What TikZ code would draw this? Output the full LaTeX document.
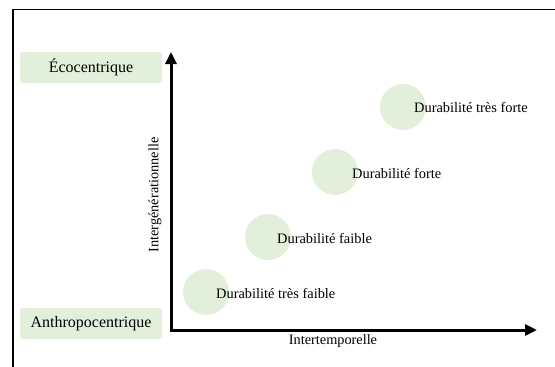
\documentclass[tikz,border=0pt]{standalone}
\usepackage{fontspec}
\setmainfont{Liberation Serif}
\usetikzlibrary{arrows.meta}
\definecolor{palegreen}{HTML}{E2EFDA}

\begin{document}
\begin{tikzpicture}[x=1pt,y=-1pt,
    pole_node/.style={fill=palegreen,rounded corners=3pt,minimum width=142pt,minimum height=31pt,font=\fontsize{16}{18}\selectfont},
    level_node/.style={circle,fill=palegreen,minimum size=46pt,inner sep=0pt},
    level_text/.style={anchor=west,font=\fontsize{14.4}{16}\selectfont,inner sep=0pt},
    axis_text/.style={font=\fontsize{14.3}{16}\selectfont,inner sep=0pt},
    axis_line/.style={line width=3pt,{Triangle[length=12pt,width=11pt]}-{Triangle[length=12pt,width=11pt]}}]
    \useasboundingbox (0,0) rectangle (555,367);
    \draw[line width=1.5pt] (13,367) -- (13,9.5) -- (555,9.5);

    \node[pole_node] (eco) at (91,67.5) {Écocentrique};
    \node[pole_node] (anthro) at (91,323.5) {Anthropocentrique};

    \coordinate (top) at (171,52);
    \coordinate (origin) at (171,330);
    \coordinate (right) at (537,330);
    \draw[axis_line] (top) -- (origin) -- (right);

    \node[axis_text,rotate=90] (inter_gen) at (155,195) {Intergénérationnelle};
    \node[axis_text] (inter_temp) at (333,341) {Intertemporelle};

    \node[level_node] (1) at (206,292) {};
    \node[level_node] (2) at (268,237) {};
    \node[level_node] (3) at (335,172) {};
    \node[level_node] (4) at (403,107) {};

    \node[level_text] (t1) at (216,293) {Durabilité très faible};
    \node[level_text] (t2) at (277,238) {Durabilité faible};
    \node[level_text] (t3) at (352,173) {Durabilité forte};
    \node[level_text] (t4) at (414,107) {Durabilité très forte};
\end{tikzpicture}
\end{document}
